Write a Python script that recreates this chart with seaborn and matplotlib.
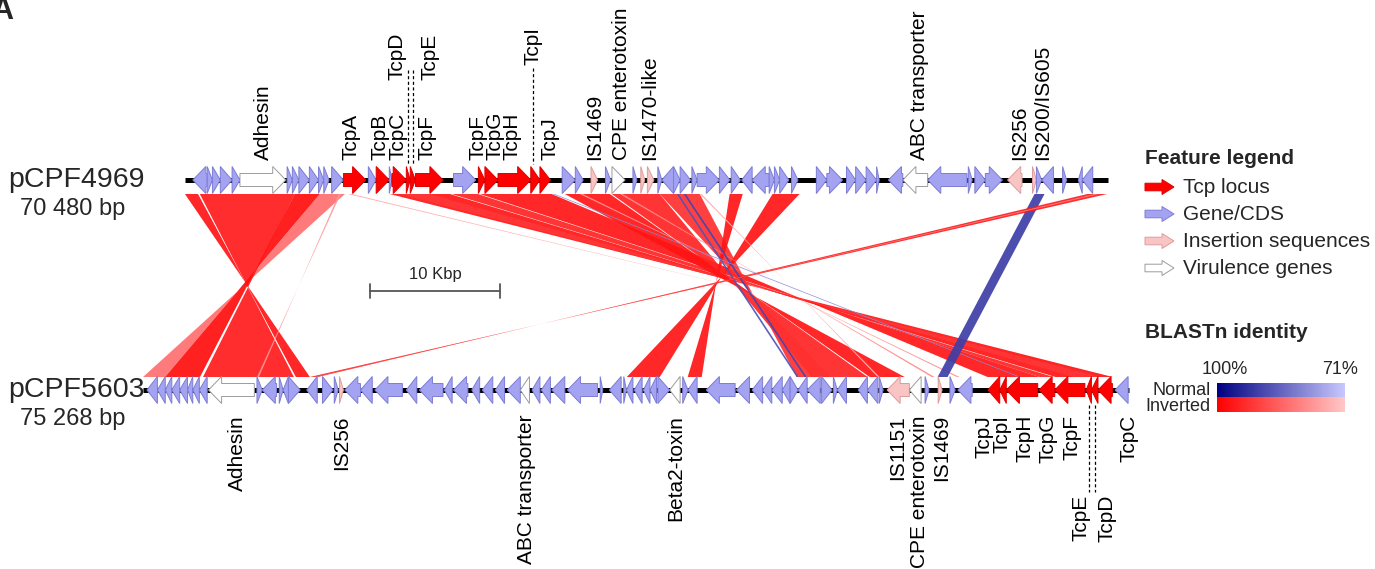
import numpy as np
import matplotlib
matplotlib.use("Agg")
import matplotlib.pyplot as plt
from matplotlib.patches import Polygon
import seaborn as sns

sns.set_theme(style="white")
plt.rcParams['font.family'] = ['Liberation Sans', 'DejaVu Sans']

# ---------------------------------------------------------------- data
# plasmid names and sizes (kbp)
plasmid_names = ["pCPF4969", "pCPF5603"]
plasmid_sizes = [70.480, 75.268]
plasmid_size_labels = ["70 480 bp", "75 268 bp"]

# genes: (start kb, end kb, strand, kind)
top_genes = [
    (0.6, 1.7, -1, "cds"), (1.7, 2.1, 1, "cds"), (2.1, 2.7, 1, "cds"), (2.7, 3.6, 1, "cds"),
    (3.6, 4.2, 1, "cds"), (4.2, 7.7, 1, "vir"), (7.8, 8.2, 1, "cds"), (8.2, 8.7, 1, "cds"),
    (8.7, 9.5, 1, "cds"), (9.5, 10.2, 1, "cds"), (10.2, 10.6, 1, "cds"), (10.6, 11.0, 1, "cds"),
    (11.2, 12.1, 1, "cds"), (12.1, 13.8, 1, "tcp"), (14.0, 14.6, 1, "cds"), (14.6, 15.6, 1, "tcp"),
    (15.6, 15.8, 1, "cds"), (15.8, 16.9, 1, "tcp"), (16.9, 17.2, 1, "tcp"), (17.2, 17.6, 1, "tcp"),
    (17.6, 19.7, 1, "tcp"), (20.5, 22.2, 1, "cds"), (22.4, 22.9, 1, "tcp"), (22.9, 23.9, 1, "tcp"),
    (23.9, 26.4, 1, "tcp"), (26.4, 27.1, 1, "tcp"), (27.1, 27.9, 1, "tcp"), (28.8, 29.8, 1, "cds"),
    (29.8, 30.4, 1, "cds"), (31.0, 31.5, 1, "is"), (32.1, 32.5, 1, "cds"), (32.6, 33.6, 1, "vir"),
    (34.2, 34.5, 1, "cds"), (34.8, 35.1, 1, "is"), (35.3, 35.8, 1, "is"), (36.1, 36.4, 1, "cds"),
    (36.4, 37.3, -1, "cds"), (37.3, 37.8, 1, "cds"), (37.8, 38.6, 1, "cds"), (38.7, 39.1, 1, "cds"),
    (39.1, 40.8, 1, "cds"), (40.8, 41.6, 1, "cds"), (41.7, 42.4, 1, "cds"), (42.5, 43.3, -1, "cds"),
    (43.3, 44.6, -1, "cds"), (44.6, 45.0, 1, "cds"), (45.0, 45.4, 1, "cds"), (45.4, 46.1, 1, "cds"),
    (46.3, 46.8, 1, "cds"), (48.2, 49.0, 1, "cds"), (49.0, 50.2, 1, "cds"), (50.5, 51.2, 1, "cds"),
    (51.2, 52.0, 1, "cds"), (52.0, 52.8, 1, "cds"), (52.8, 53.0, 1, "cds"), (53.7, 54.8, -1, "cds"),
    (54.8, 56.7, -1, "vir"), (56.7, 59.7, -1, "cds"), (59.8, 60.1, 1, "cds"), (60.3, 61.1, 1, "cds"),
    (61.1, 62.4, 1, "cds"), (62.8, 63.9, -1, "is"), (64.7, 65.0, 1, "is"), (65.0, 65.4, 1, "cds"),
    (65.4, 66.3, -1, "cds"), (67.0, 67.3, 1, "cds"), (68.2, 68.5, -1, "cds"), (68.5, 69.3, -1, "cds"),
]

bottom_genes = [
    (0.3, 1.1, -1, "cds"), (1.1, 1.7, -1, "cds"), (1.7, 2.2, -1, "cds"), (2.2, 2.8, -1, "cds"),
    (2.8, 3.4, -1, "cds"), (3.4, 3.8, -1, "cds"), (3.8, 4.3, -1, "cds"), (4.3, 4.9, -1, "cds"),
    (5.0, 8.5, -1, "vir"), (8.7, 9.1, 1, "cds"), (9.1, 10.2, -1, "cds"), (10.4, 10.7, 1, "cds"),
    (10.7, 11.1, -1, "cds"), (11.1, 12.0, 1, "cds"), (12.5, 13.3, -1, "cds"), (13.7, 14.5, 1, "cds"),
    (14.6, 14.9, 1, "cds"), (15.0, 15.3, 1, "is"), (15.4, 16.6, -1, "cds"), (16.6, 17.5, -1, "cds"),
    (17.7, 19.8, -1, "cds"), (20.1, 20.9, -1, "cds"), (21.1, 22.9, -1, "cds"), (23.0, 23.6, -1, "cds"),
    (23.7, 24.8, -1, "cds"), (25.1, 25.7, -1, "cds"), (25.9, 26.7, -1, "cds"), (26.9, 27.6, -1, "cds"),
    (27.8, 28.8, -1, "cds"), (28.8, 29.5, -1, "vir"), (29.7, 30.3, -1, "cds"), (30.4, 31.1, -1, "cds"),
    (31.2, 32.2, -1, "cds"), (32.4, 34.7, -1, "cds"), (34.9, 35.1, 1, "cds"), (35.6, 36.5, -1, "cds"),
    (36.7, 36.9, 1, "cds"), (36.9, 37.4, -1, "cds"), (37.5, 38.1, -1, "cds"), (38.2, 38.7, -1, "cds"),
    (38.7, 39.2, -1, "cds"), (39.3, 40.2, 1, "cds"), (40.2, 41.0, -1, "vir"), (41.2, 41.6, 1, "cds"),
    (41.6, 42.3, -1, "cds"), (43.0, 45.2, -1, "cds"), (45.3, 46.3, -1, "cds"), (46.5, 47.3, -1, "cds"),
    (47.3, 48.0, -1, "cds"), (48.0, 48.8, -1, "cds"), (48.8, 49.4, -1, "cds"), (49.4, 50.0, 1, "cds"),
    (50.0, 50.7, -1, "cds"), (50.7, 51.7, -1, "cds"), (51.8, 52.6, 1, "cds"), (52.7, 53.0, 1, "cds"),
    (53.0, 53.7, -1, "cds"), (54.6, 55.3, -1, "cds"), (55.3, 56.1, -1, "cds"), (56.2, 56.5, 1, "cds"),
    (56.8, 58.5, -1, "is"), (58.5, 59.4, -1, "vir"), (59.7, 60.0, 1, "cds"), (60.7, 61.0, 1, "is"),
    (61.6, 62.0, 1, "cds"), (62.2, 63.3, -1, "cds"), (64.5, 65.4, -1, "tcp"), (65.4, 65.9, -1, "tcp"),
    (65.9, 68.3, -1, "tcp"), (68.4, 69.6, -1, "tcp"), (69.6, 71.9, -1, "tcp"), (72.0, 72.4, -1, "tcp"),
    (72.4, 72.9, -1, "tcp"), (72.9, 74.0, -1, "tcp"), (74.2, 75.2, -1, "cds"),
]

# BLASTn hits: (top start, top end, bottom start, bottom end, identity %)
# top start pairs with bottom start; reversed bottom order = inverted hit
blast_hits = [
    (10.30, 12.21, 1.68, 0.00, 84),
    (0.00, 1.00, 12.74, 11.67, 97),
    (1.14, 8.39, 11.52, 4.58, 96),
    (8.39, 10.30, 4.35, 1.68, 98),
    (11.75, 11.90, 8.85, 8.70, 78),
    (12.44, 12.74, 74.01, 73.78, 76),
    (15.64, 20.22, 74.01, 69.66, 97),
    (16.40, 18.69, 73.02, 71.11, 92),
    (20.37, 22.36, 69.51, 68.44, 95),
    (22.51, 28.00, 68.44, 64.47, 97),
    (29.00, 32.43, 58.14, 55.47, 97),
    (32.58, 36.24, 55.32, 51.04, 95),
    (36.24, 39.30, 52.42, 49.90, 93),
    (41.58, 42.58, 42.65, 41.58, 97),
    (44.86, 46.92, 39.45, 36.93, 97),
    (30.14, 30.37, 62.34, 62.11, 78),
    (33.19, 33.42, 60.43, 60.20, 80),
    (39.30, 39.45, 56.23, 56.08, 75),
    (37.54, 37.69, 49.90, 50.05, 88),
    (38.07, 38.23, 50.51, 50.66, 90),
    (28.08, 28.23, 66.84, 66.99, 80),
    (64.86, 65.62, 60.66, 61.42, 91),
    (68.90, 70.40, 13.35, 12.74, 96),
    (69.43, 69.81, 13.20, 13.05, 82),
]

# gene labels: (text, x kb on own plasmid, anchor row)
top_labels = [
    ("Adhesin", 6.0, 160), ("TcpA", 12.7, 160), ("TcpB", 14.9, 160), ("TcpC", 16.3, 160),
    ("TcpD", 16.2, 80), ("TcpE", 18.7, 80), ("TcpF", 18.5, 160), ("TcpF", 22.4, 160),
    ("TcpG", 23.7, 160), ("TcpH", 25.0, 160), ("TcpI", 26.6, 65), ("TcpJ", 27.9, 160),
    ("IS1469", 31.3, 160), ("CPE enterotoxin", 33.3, 160), ("IS1470-like", 35.5, 160),
    ("ABC transporter", 56.1, 160), ("IS256", 63.7, 160), ("IS200/IS605", 65.5, 160),
]
top_leaders = [(17.05, 70), (17.4, 70), (26.55, 68)]

bottom_labels = [
    ("Adhesin", 7.2, 415), ("IS256", 15.2, 415), ("ABC transporter", 29.3, 415),
    ("Beta2-toxin", 40.7, 415), ("IS1151", 57.6, 415), ("CPE enterotoxin", 59.3, 415),
    ("IS1469", 61.0, 415), ("TcpJ", 64.2, 415), ("TcpI", 65.6, 415), ("TcpH", 67.3, 415),
    ("TcpG", 69.1, 415), ("TcpF", 70.9, 415), ("TcpE", 71.6, 495), ("TcpD", 73.6, 495),
    ("TcpC", 75.3, 415),
]
bottom_leaders = [(72.2, 492), (72.65, 492)]

legend_kinds = ["tcp", "cds", "is", "vir"]
legend_texts = ["Tcp locus", "Gene/CDS", "Insertion sequences", "Virulence genes"]
identity_range = (100, 71)
scale_bar_kb = 10

# ---------------------------------------------------------------- styling
W, H = 1375, 569
PX_PER_KB = 13.1
ORIGIN_PX = 143
TOP_SHIFT = 3.2
TOP_Y, BOT_Y = 180, 390
HEAD_KB, BODY_H, HEAD_H = 1.0, 6.5, 13.5
LINK_TOP, LINK_BOT = 194, 377

STYLE = {
    "cds": ("#a3a3f2", "#7d7dd6"),
    "tcp": ("#ff0000", "#e00000"),
    "is": ("#f9c4c4", "#de9c9c"),
    "vir": ("#ffffff", "#9c9c9c"),
}
inv_cmap = sns.blend_palette(["#ff0000", "#ffc8c8"], as_cmap=True)
norm_cmap = sns.blend_palette(["#000080", "#c8c8ff"], as_cmap=True)

fig = plt.figure(figsize=(W / 100, H / 100), dpi=100)
ax = fig.add_axes([0, 0, 1, 1])
ax.set_xlim(-ORIGIN_PX / PX_PER_KB, (W - ORIGIN_PX) / PX_PER_KB)
ax.set_ylim(H, 0)
ax.axis("off")

pax = fig.add_axes([0, 0, 1, 1], zorder=5)
pax.patch.set_alpha(0)
pax.axis("off")


def arrow_points(start, end, strand, yc, head, body_h, head_h):
    hl = min(head, end - start)
    if strand > 0:
        b = end - hl
        return [(start, yc - body_h), (b, yc - body_h), (b, yc - head_h), (end, yc),
                (b, yc + head_h), (b, yc + body_h), (start, yc + body_h)]
    b = start + hl
    return [(end, yc - body_h), (b, yc - body_h), (b, yc - head_h), (start, yc),
            (b, yc + head_h), (b, yc + body_h), (end, yc + body_h)]


def draw_track(genes, shift, size, yc):
    ax.plot([shift, shift + size], [yc, yc], color="black", lw=3.6,
            solid_capstyle="butt", zorder=2)
    for start, end, strand, kind in genes:
        face, edge = STYLE[kind]
        ax.add_patch(Polygon(arrow_points(start + shift, end + shift, strand, yc,
                                          HEAD_KB, BODY_H, HEAD_H),
                             closed=True, facecolor=face, edgecolor=edge,
                             lw=0.7, zorder=3))


# comparison links
lo, hi = identity_range[1], identity_range[0]
for ts, te, bs, be, ident in blast_hits:
    inverted = (te - ts) * (be - bs) < 0
    t = (hi - ident) / (hi - lo)
    color = inv_cmap(t) if inverted else norm_cmap(t)
    pts = [(ts + TOP_SHIFT, LINK_TOP), (te + TOP_SHIFT, LINK_TOP),
           (be, LINK_BOT), (bs, LINK_BOT)]
    ax.add_patch(Polygon(pts, closed=True, facecolor=color, edgecolor="none",
                         alpha=0.92, zorder=1))

draw_track(top_genes, TOP_SHIFT, plasmid_sizes[0], TOP_Y)
draw_track(bottom_genes, 0.0, plasmid_sizes[1], BOT_Y)

LABEL_FS = 15
for text, x, y in top_labels:
    ax.text(x + TOP_SHIFT, y, text, rotation=90, ha="center", va="bottom",
            fontsize=LABEL_FS, color="black")
for x, y in top_leaders:
    ax.plot([x + TOP_SHIFT, x + TOP_SHIFT], [y, 164], color="black", lw=0.9,
            ls=(0, (2.5, 2)), zorder=4)
for text, x, y in bottom_labels:
    ax.text(x, y, text, rotation=90, ha="center", va="top",
            fontsize=LABEL_FS, color="black")
for x, y in bottom_leaders:
    ax.plot([x, x], [405, y], color="black", lw=0.9, ls=(0, (2.5, 2)), zorder=4)

# scale bar
sb_mid = (435 - ORIGIN_PX) / PX_PER_KB
sb_x = [sb_mid - scale_bar_kb / 2, sb_mid + scale_bar_kb / 2]
ax.plot(sb_x, [291, 291], color="#555555", lw=1.3)
for x in sb_x:
    ax.plot([x, x], [284, 298], color="#555555", lw=1.3)
ax.text(sb_mid, 274, f"{scale_bar_kb} Kbp", ha="center", va="center", fontsize=12)

# plasmid names
pax.set_xlim(0, W)
pax.set_ylim(H, 0)
for yc, name, size in [(TOP_Y, plasmid_names[0], plasmid_size_labels[0]),
                       (BOT_Y, plasmid_names[1], plasmid_size_labels[1])]:
    pax.text(8, yc, name, ha="left", va="center", fontsize=20.5)
    pax.text(20, yc + 29, size, ha="left", va="center", fontsize=17)

pax.text(-9, 19, "A", fontsize=22, fontweight="bold", ha="left", va="baseline")

# feature legend
pax.text(1145, 158, "Feature legend", fontsize=15, fontweight="bold", ha="left", va="center")
for i, (kind, label) in enumerate(zip(legend_kinds, legend_texts)):
    yc = 187 + i * 27
    face, edge = STYLE[kind]
    pax.add_patch(Polygon(arrow_points(1145, 1174, 1, yc, 12, 3.8, 7.5), closed=True,
                          facecolor=face, edgecolor=edge, lw=0.7))
    pax.text(1183, yc, label, fontsize=15, ha="left", va="center")

# identity colour bars
pax.text(1145, 332, "BLASTn identity", fontsize=15, fontweight="bold", ha="left", va="center")
pax.text(1225, 369, f"{identity_range[0]}%", fontsize=13, ha="center", va="center")
pax.text(1340, 369, f"{identity_range[1]}%", fontsize=13, ha="center", va="center")
grad = np.linspace(0, 1, 256)[None, :]
pax.imshow(grad, extent=(1217, 1345, 397.5, 383), cmap=norm_cmap, aspect="auto")
pax.imshow(grad, extent=(1217, 1345, 412, 397.5), cmap=inv_cmap, aspect="auto")
pax.text(1211, 390, "Normal", fontsize=13, ha="right", va="center")
pax.text(1211, 406, "Inverted", fontsize=13, ha="right", va="center")
pax.set_xlim(0, W)
pax.set_ylim(H, 0)

fig.savefig("out.png", dpi=100)
